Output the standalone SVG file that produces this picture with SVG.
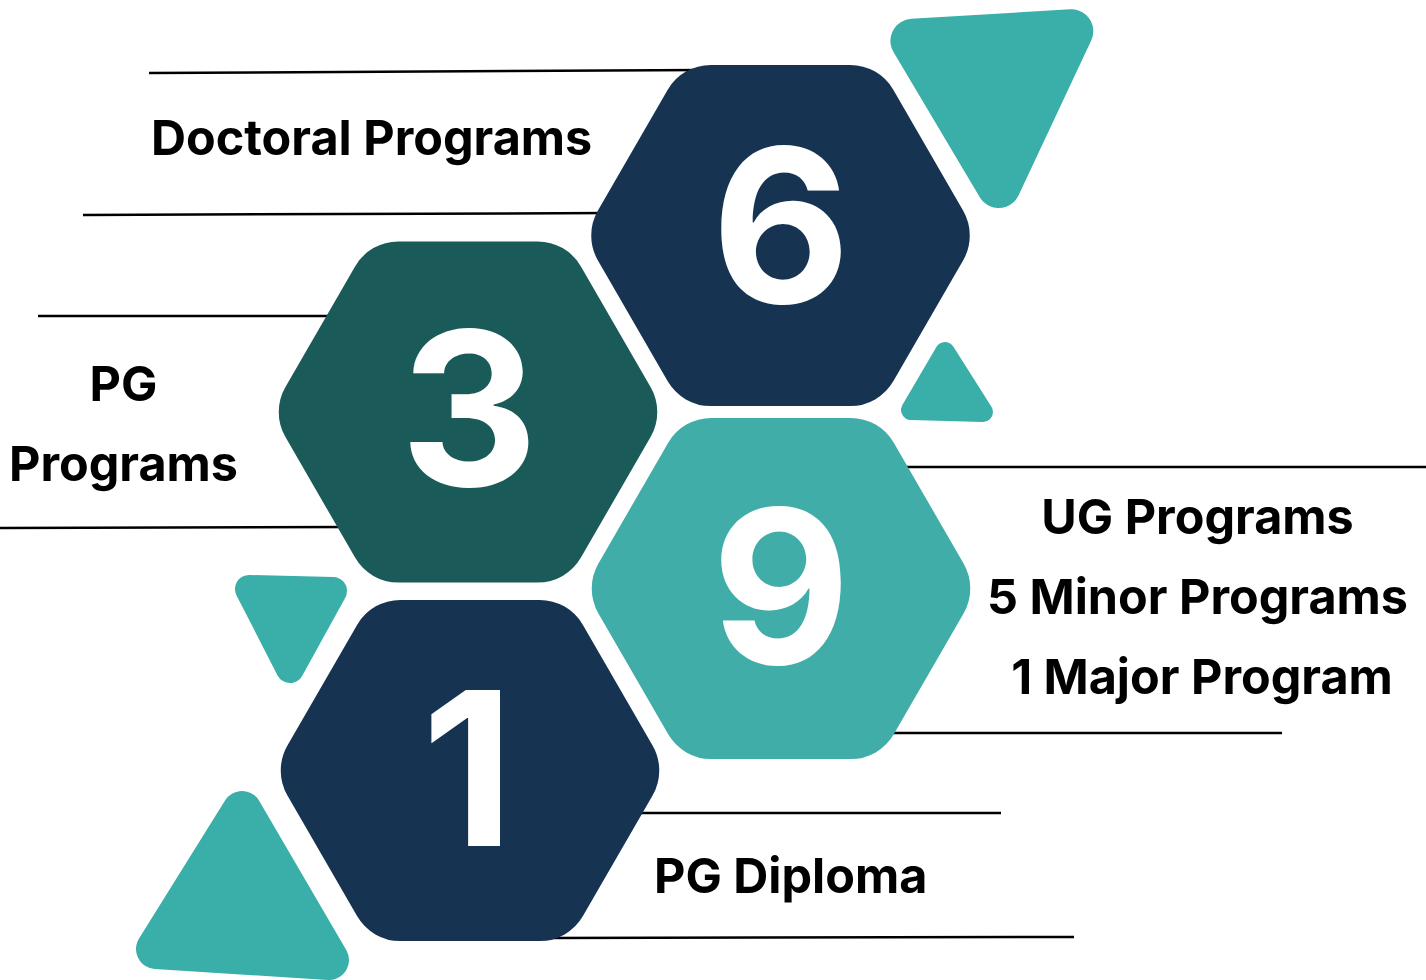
<svg xmlns="http://www.w3.org/2000/svg" width="1426" height="980" viewBox="0 0 1426 980">
  <style>
    .line { stroke: #000; stroke-width: 2.5; fill: none; }
    .num { font-family: Inter, "Liberation Sans", sans-serif; font-weight: 700; font-size: 214px; fill: #fff; text-anchor: middle; }
    .lbl { font-family: Inter, "Liberation Sans", sans-serif; font-weight: 700; font-size: 48.5px; fill: #000; }
    .mid { text-anchor: middle; }
    .tri { fill: #3AAFA9; stroke: #3AAFA9; stroke-linejoin: round; }
  </style>
  <defs>
    <path id="hex" d="M182.57,-25 A50,50 0 0 1 182.57,25 L112.93,145.6 A50,50 0 0 1 69.63,170.6 L-69.63,170.6 A50,50 0 0 1 -112.93,145.6 L-182.57,25 A50,50 0 0 1 -182.57,-25 L-112.93,-145.6 A50,50 0 0 1 -69.63,-170.6 L69.63,-170.6 A50,50 0 0 1 112.93,-145.6 Z"/>
  </defs>
  <rect width="1426" height="980" fill="#fff"/>

  <g id="connectors">
    <line class="line" x1="149" y1="73" x2="704" y2="70"/>
    <line class="line" x1="83" y1="215" x2="610" y2="213"/>
    <line class="line" x1="38" y1="316" x2="340" y2="316"/>
    <line class="line" x1="0" y1="528" x2="350" y2="527"/>
    <line class="line" x1="895" y1="467" x2="1426" y2="467"/>
    <line class="line" x1="880" y1="733" x2="1282" y2="733"/>
    <line class="line" x1="625" y1="813" x2="1001" y2="813"/>
    <line class="line" x1="548" y1="938" x2="1074" y2="937"/>
  </g>

  <g id="decor">
    <polygon class="tri" stroke-width="44" points="912.4,40.8 1071.3,31.2 998.7,186"/>
    <polygon class="tri" stroke-width="20" points="945,352 911,410 983,412"/>
    <polygon class="tri" stroke-width="28" points="249,589 333,591 290,669"/>
    <polygon class="tri" stroke-width="40" points="242,811 156,949 329,960"/>
  </g>

  <g id="node-6">
    <use href="#hex" transform="translate(780.5,235.5)" fill="#163452"/>
    <text class="num" x="781" y="303">6</text>
    <text class="lbl" x="151" y="155">Doctoral Programs</text>
  </g>

  <g id="node-3">
    <use href="#hex" transform="translate(468,412)" fill="#1A5B59"/>
    <text class="num" x="469" y="486">3</text>
    <text class="lbl mid" x="123.5" y="401">PG</text>
    <text class="lbl mid" x="123.5" y="481">Programs</text>
  </g>

  <g id="node-9">
    <use href="#hex" transform="translate(781,588.5)" fill="#41ADA8"/>
    <text class="num" x="781" y="664">9</text>
    <text class="lbl mid" x="1197.5" y="534">UG Programs</text>
    <text class="lbl mid" x="1197.5" y="614">5 Minor Programs</text>
    <text class="lbl mid" x="1202" y="694">1 Major Program</text>
  </g>

  <g id="node-1">
    <use href="#hex" transform="translate(470,770.5)" fill="#163452"/>
    <text class="num" x="468" y="846">1</text>
    <text class="lbl" x="654" y="893">PG Diploma</text>
  </g>
</svg>
